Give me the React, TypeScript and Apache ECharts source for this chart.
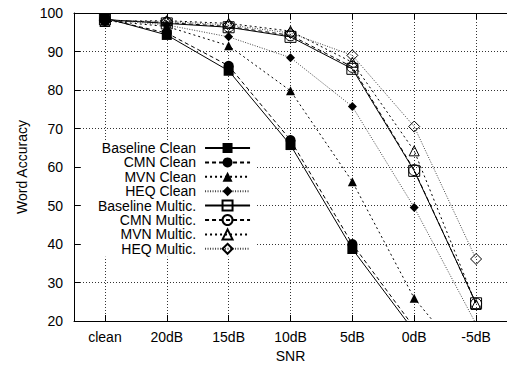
import React, { useEffect, useRef } from "react";
import * as echarts from "echarts";

const categories = ["clean", "20dB", "15dB", "10dB", "5dB", "0dB", "-5dB"];

const seriesNames = [
  "Baseline Clean",
  "CMN Clean",
  "MVN Clean",
  "HEQ Clean",
  "Baseline Multic.",
  "CMN Multic.",
  "MVN Multic.",
  "HEQ Multic.",
];

const baselineClean = [98.7, 94.3, 85.0, 65.7, 38.7, 17.3, 5.0];
const cmnClean = [98.5, 94.8, 86.3, 67.0, 40.0, 18.3, 6.0];
const mvnClean = [98.0, 96.5, 91.5, 79.8, 56.2, 25.9, 6.5];
const heqClean = [98.3, 96.9, 93.8, 88.4, 75.7, 49.5, 19.2];
const baselineMultic = [98.3, 97.3, 96.3, 93.8, 85.5, 59.0, 24.6];
const cmnMultic = [98.2, 97.5, 96.5, 94.2, 86.0, 59.2, 24.5];
const mvnMultic = [97.8, 98.0, 97.3, 95.3, 87.2, 64.2, 24.3];
const heqMultic = [98.0, 97.8, 96.9, 94.8, 89.0, 70.5, 36.1];

const yTicks = [20, 30, 40, 50, 60, 70, 80, 90, 100];

const FONT = "'Liberation Sans', Arial, Helvetica, sans-serif";

export default function App() {
  const ref = useRef<HTMLDivElement>(null);

  useEffect(() => {
    if (!ref.current) return;
    const chart = echarts.init(ref.current, undefined, { renderer: "svg" });

    const dashes: any[] = ["solid", [4, 3], [2, 3], [1, 1.5]];
    const colors = ["#000", "#000", "#000", "#444"];
    const symbols = ["rect", "circle", "triangle", "diamond"];
    const filledSizes = [10, 10, 9, 9];
    const hollowSizes = [11, 11, 10, 11];
    const allData = [
      baselineClean,
      cmnClean,
      mvnClean,
      heqClean,
      baselineMultic,
      cmnMultic,
      mvnMultic,
      heqMultic,
    ];

    const series = allData.map((d, i) => {
      const k = i % 4;
      const hollow = i >= 4;
      return {
        name: seriesNames[i],
        type: "line",
        data: d,
        xAxisIndex: 0,
        yAxisIndex: 0,
        clip: true,
        symbol: symbols[k],
        symbolSize: hollow ? hollowSizes[k] : filledSizes[k],
        lineStyle: { color: colors[k], width: 1, type: dashes[k] },
        itemStyle: hollow
          ? { color: "rgba(0,0,0,0)", borderColor: "#000", borderWidth: 1 }
          : { color: "#000", borderWidth: 0 },
        emphasis: { disabled: true },
        z: 2,
      };
    });

    chart.setOption({
      animation: false,
      backgroundColor: "#fff",
      textStyle: { fontFamily: FONT },
      grid: { left: 74, top: 13, width: 438, height: 308, containLabel: false },
      legend: {
        orient: "vertical",
        left: 82,
        top: 141,
        align: "right",
        itemWidth: 45,
        itemHeight: 12.5,
        itemGap: 0.4,
        padding: [0, 6, 1, 16],
        backgroundColor: "#fff",
        selectedMode: false,
        data: seriesNames,
        textStyle: {
          fontFamily: FONT,
          fontSize: 14,
          lineHeight: 14,
          color: "#000",
          padding: [0, 4, 0, 0],
        },
      },
      xAxis: [
        {
          type: "category",
          data: categories,
          boundaryGap: true,
          position: "bottom",
          name: "SNR",
          nameLocation: "middle",
          nameGap: 27,
          nameTextStyle: { fontFamily: FONT, fontSize: 14, color: "#000" },
          axisLine: { show: true, lineStyle: { color: "#000", width: 1 } },
          axisTick: {
            show: true,
            inside: true,
            length: 6,
            alignWithLabel: true,
            lineStyle: { color: "#000" },
          },
          axisLabel: { fontFamily: FONT, fontSize: 14, color: "#000", margin: 9 },
          splitLine: {
            show: true,
            alignWithLabel: true,
            lineStyle: { color: "#333", width: 1, type: [1, 2] },
          },
        },
        {
          type: "category",
          data: categories,
          boundaryGap: true,
          position: "top",
          axisLine: { show: true, lineStyle: { color: "#000", width: 1 } },
          axisTick: {
            show: true,
            inside: true,
            length: 6,
            alignWithLabel: true,
            lineStyle: { color: "#000" },
          },
          axisLabel: { show: false },
          splitLine: { show: false },
        },
      ],
      yAxis: [
        {
          type: "value",
          min: yTicks[0],
          max: yTicks[yTicks.length - 1],
          interval: 10,
          name: "Word Accuracy",
          nameLocation: "middle",
          nameGap: 45,
          nameTextStyle: { fontFamily: FONT, fontSize: 14, color: "#000" },
          axisLine: { show: true, lineStyle: { color: "#000", width: 1 } },
          axisTick: { show: true, inside: true, length: 6, lineStyle: { color: "#000" } },
          axisLabel: { fontFamily: FONT, fontSize: 14, color: "#000", margin: 11 },
          splitLine: {
            show: true,
            lineStyle: { color: "#333", width: 1, type: [1, 2] },
          },
        },
      ],
      series,
    });

    return () => chart.dispose();
  }, []);

  return <div ref={ref} style={{ width: 507, height: 368, position: "absolute", left: 0, top: 0 }} />;
}
